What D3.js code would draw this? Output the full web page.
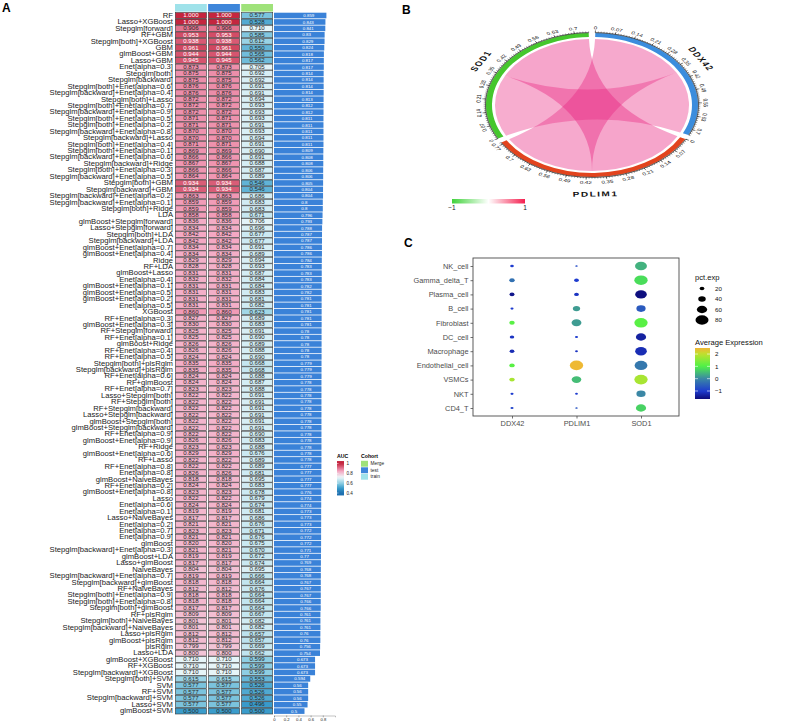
<!DOCTYPE html>
<html>
<head>
<meta charset="utf-8">
<script src="https://cdn.jsdelivr.net/npm/d3@7"></script>
<style>
  body { margin: 0; background: #fff; }
  svg { font-family: "Liberation Sans", Arial, sans-serif; }
</style>
</head>
<body>
<svg id="fig" width="793" height="722"></svg>
<script>
/* ---------- Panel A data ---------- */
const models = ["RF","Lasso+XGBoost","Stepglm[forward]","RF+GBM","Stepglm[both]+XGBoost","GBM","glmBoost+GBM","Lasso+GBM","Enet[alpha=0.3]","Stepglm[both]",
  "Stepglm[backward]","Stepglm[both]+Enet[alpha=0.6]","Stepglm[backward]+Enet[alpha=0.4]","Stepglm[both]+Lasso","Stepglm[both]+Enet[alpha=0.7]","Stepglm[backward]+Enet[alpha=0.9]","Stepglm[both]+Enet[alpha=0.5]","Stepglm[both]+Enet[alpha=0.2]","Stepglm[backward]+Enet[alpha=0.8]","Stepglm[backward]+Lasso",
  "Stepglm[both]+Enet[alpha=0.4]","Stepglm[both]+Enet[alpha=0.1]","Stepglm[backward]+Enet[alpha=0.6]","Stepglm[backward]+Ridge","Stepglm[both]+Enet[alpha=0.3]","Stepglm[backward]+Enet[alpha=0.5]","Stepglm[both]+GBM","Stepglm[backward]+GBM","Stepglm[backward]+Enet[alpha=0.2]","Stepglm[backward]+Enet[alpha=0.1]",
  "Stepglm[both]+Ridge","LDA","glmBoost+Stepglm[forward]","Lasso+Stepglm[forward]","Stepglm[both]+LDA","Stepglm[backward]+LDA","glmBoost+Enet[alpha=0.7]","glmBoost+Enet[alpha=0.4]","Ridge","RF+LDA",
  "glmBoost+Lasso","Enet[alpha=0.4]","glmBoost+Enet[alpha=0.1]","glmBoost+Enet[alpha=0.5]","glmBoost+Enet[alpha=0.2]","Enet[alpha=0.5]","XGBoost","RF+Enet[alpha=0.3]","glmBoost+Enet[alpha=0.3]","RF+Stepglm[forward]",
  "RF+Enet[alpha=0.1]","glmBoost+Ridge","RF+Enet[alpha=0.4]","RF+Enet[alpha=0.5]","Stepglm[both]+plsRglm","Stepglm[backward]+plsRglm","RF+Enet[alpha=0.6]","RF+glmBoost","RF+Enet[alpha=0.7]","Lasso+Stepglm[both]",
  "RF+Stepglm[both]","RF+Stepglm[backward]","Lasso+Stepglm[backward]","glmBoost+Stepglm[both]","glmBoost+Stepglm[backward]","RF+Enet[alpha=0.9]","glmBoost+Enet[alpha=0.9]","RF+Ridge","glmBoost+Enet[alpha=0.6]","RF+Lasso",
  "RF+Enet[alpha=0.8]","Enet[alpha=0.8]","glmBoost+NaiveBayes","RF+Enet[alpha=0.2]","glmBoost+Enet[alpha=0.8]","Lasso","Enet[alpha=0.6]","Enet[alpha=0.1]","Lasso+NaiveBayes","Enet[alpha=0.2]",
  "Enet[alpha=0.7]","Enet[alpha=0.9]","glmBoost","Stepglm[backward]+Enet[alpha=0.3]","glmBoost+LDA","Lasso+glmBoost","NaiveBayes","Stepglm[backward]+Enet[alpha=0.7]","Stepglm[backward]+glmBoost","RF+NaiveBayes",
  "Stepglm[both]+Enet[alpha=0.9]","Stepglm[both]+Enet[alpha=0.8]","Stepglm[both]+glmBoost","RF+plsRglm","Stepglm[both]+NaiveBayes","Stepglm[backward]+NaiveBayes","Lasso+plsRglm","glmBoost+plsRglm","plsRglm","Lasso+LDA",
  "glmBoost+XGBoost","RF+XGBoost","Stepglm[backward]+XGBoost","Stepglm[both]+SVM","SVM","RF+SVM","Stepglm[backward]+SVM","Lasso+SVM","glmBoost+SVM"];

/* first two columns show the same values */
const aucTrain = [1.000,1.000,0.906,0.953,0.938,0.961,0.944,0.945,0.873,0.875,
  0.875,0.876,0.876,0.872,0.872,0.872,0.871,0.871,0.870,0.870,
  0.871,0.869,0.866,0.867,0.866,0.864,0.934,0.934,0.863,0.859,
  0.859,0.858,0.836,0.834,0.842,0.842,0.834,0.834,0.829,0.828,
  0.831,0.832,0.831,0.831,0.831,0.831,0.860,0.827,0.830,0.825,
  0.825,0.826,0.826,0.824,0.835,0.835,0.824,0.824,0.823,0.822,
  0.822,0.822,0.822,0.822,0.822,0.822,0.826,0.823,0.829,0.822,
  0.822,0.826,0.818,0.824,0.823,0.822,0.824,0.819,0.817,0.821,
  0.823,0.821,0.820,0.821,0.819,0.817,0.804,0.819,0.818,0.812,
  0.818,0.818,0.817,0.809,0.801,0.801,0.812,0.812,0.799,0.800,
  0.710,0.710,0.710,0.615,0.577,0.577,0.577,0.577,0.500];
const aucTest = aucTrain.slice();
const aucMerge = [0.577,0.528,0.710,0.585,0.612,0.550,0.565,0.562,0.705,0.692,
  0.692,0.691,0.691,0.694,0.693,0.693,0.693,0.691,0.693,0.694,
  0.691,0.690,0.691,0.688,0.687,0.689,0.546,0.546,0.686,0.683,
  0.683,0.671,0.706,0.696,0.677,0.677,0.691,0.689,0.694,0.693,
  0.687,0.684,0.684,0.683,0.681,0.682,0.623,0.689,0.683,0.691,
  0.690,0.689,0.688,0.690,0.668,0.668,0.688,0.687,0.688,0.691,
  0.691,0.691,0.691,0.691,0.691,0.690,0.683,0.688,0.676,0.689,
  0.689,0.681,0.695,0.683,0.678,0.679,0.674,0.681,0.686,0.676,
  0.671,0.676,0.675,0.670,0.672,0.674,0.695,0.666,0.664,0.676,
  0.664,0.664,0.664,0.667,0.682,0.682,0.657,0.657,0.669,0.662,
  0.599,0.599,0.599,0.553,0.526,0.526,0.526,0.496,0.500];
const aucMean = [0.859,0.843,0.841,0.83,0.829,0.824,0.818,0.817,0.817,0.814,
  0.814,0.814,0.814,0.813,0.812,0.812,0.811,0.811,0.811,0.811,
  0.811,0.809,0.808,0.808,0.806,0.806,0.805,0.804,0.804,0.8,
  0.8,0.796,0.793,0.788,0.787,0.787,0.786,0.786,0.784,0.783,
  0.783,0.783,0.782,0.782,0.781,0.781,0.781,0.781,0.781,0.78,
  0.78,0.78,0.78,0.78,0.779,0.779,0.779,0.778,0.778,0.778,
  0.778,0.778,0.778,0.778,0.778,0.778,0.778,0.778,0.778,0.778,
  0.777,0.777,0.777,0.777,0.776,0.774,0.774,0.773,0.773,0.773,
  0.772,0.772,0.772,0.771,0.77,0.769,0.768,0.768,0.767,0.767,
  0.767,0.766,0.766,0.761,0.761,0.761,0.76,0.76,0.756,0.754,
  0.673,0.673,0.673,0.594,0.56,0.56,0.56,0.55,0.5];
const cohorts = ["train", "test", "Merge"];
const cohortValues = { train: aucTrain, test: aucTest, Merge: aucMerge };
const cohortLegend = ["Merge", "test", "train"];
const barTicks = [0, 0.2, 0.4, 0.6, 0.8];
const aucLegendTicks = [1, 0.8, 0.6, 0.4];

/* ---------- Panel B data ---------- */
const genes = ["DDX42", "PDLIM1", "SOD1"];
const geneTotals = [0.73, 0.78, 0.75];
const corrPairs = [["DDX42", "PDLIM1", 0.38], ["DDX42", "SOD1", 0.35], ["PDLIM1", "SOD1", 0.40]];
/* clockwise order of link ends inside each sector */
const slotOrder = {
  DDX42:  ["DDX42-PDLIM1", "DDX42-SOD1"],
  PDLIM1: ["PDLIM1-SOD1", "DDX42-PDLIM1"],
  SOD1:   ["DDX42-SOD1", "PDLIM1-SOD1"]
};
const chordTicks = [0, 0.07, 0.14, 0.21, 0.28, 0.35, 0.42, 0.49, 0.56, 0.63, 0.7, 0.77];

/* ---------- Panel C data ---------- */
const cellTypes = ["NK_cell","Gamma_delta_T","Plasma_cell","B_cell","Fibroblast","DC_cell","Macrophage","Endothelial_cell","VSMCs","NKT","CD4_T"];
const dotGenes = ["DDX42", "PDLIM1", "SOD1"];
const avgExpDDX42  = [-1.0, -0.3, -1.5, -1.0, 1.1, -1.1, -1.2, 1.1, 1.8, -1.0, -0.9];
const avgExpPDLIM1 = [-0.8, -1.0, -1.1, 0.2, 0.2, -1.0, -1.1, 2.45, 0.5, -1.0, -0.7];
const avgExpSOD1   = [0.4, 0.8, -1.6, -0.6, 1.1, -1.35, -1.2, -0.2, 1.8, 0.0, 0.7];
const pctDDX42  = [12, 25, 22, 8, 25, 18, 20, 25, 25, 8, 8];
const pctPDLIM1 = [3, 20, 20, 38, 57, 8, 6, 82, 55, 6, 3];
const pctSOD1   = [72, 82, 70, 52, 82, 60, 70, 78, 82, 52, 60];
const pctLegend = [20, 40, 60, 80];
const expLegend = [2, 1, 0, -1];

const svg = d3.select('#fig');
const defs = svg.append('defs');

/* =================== A: heatmap + bars =================== */
const gA = svg.append('g');
gA.append('text').attr('x', 2).attr('y', 12).attr('font-size', 12).attr('font-weight', 'bold').text('A');

const rowY = d3.scaleBand().domain(models).range([12.3, 714.3]);
const colX = d3.scaleBand().domain(cohorts).range([175, 273]).paddingInner(0.04);
const barX = d3.scaleLinear().domain([0, 1]).range([274, 335]);
const heatColor = d3.scaleLinear()
  .domain([0.4, 0.5, 0.6, 0.72, 0.85, 1])
  .range(["#1c6fb0", "#3a9ccb", "#8fcfe3", "#eef8fa", "#f4a3bf", "#c4263f"])
  .clamp(true);
const cohortColor = d3.scaleOrdinal().domain(["train", "test", "Merge"]).range(["#9fe2ea", "#3e86da", "#9fe27a"]);

/* column header */
gA.selectAll('rect.hdr').data(cohorts).join('rect')
  .attr('x', d => colX(d)).attr('y', 4)
  .attr('width', colX.bandwidth()).attr('height', 7.6)
  .attr('fill', d => cohortColor(d));

/* model names (source text is a little wide, so stretch it) */
gA.selectAll('text.model').data(models).join('text')
  .attr('transform', d => `translate(173,${rowY(d) + rowY.bandwidth() / 2}) scale(1.18,1)`)
  .attr('dy', '0.35em').attr('text-anchor', 'end')
  .attr('font-size', 6.5).attr('fill', '#1a1a1a')
  .text(d => d);

/* heat cells */
cohorts.forEach(c => {
  const col = gA.append('g');
  const vals = cohortValues[c];
  col.selectAll('rect').data(models).join('rect')
    .attr('x', colX(c) + 0.3).attr('y', d => rowY(d) + 0.3)
    .attr('width', colX.bandwidth() - 0.6).attr('height', rowY.bandwidth() - 0.6)
    .attr('fill', (d, i) => heatColor(vals[i]))
    .attr('stroke', '#3a3a3a').attr('stroke-width', 0.6);
  col.selectAll('text').data(models).join('text')
    .attr('transform', d => `translate(${colX(c) + colX.bandwidth() / 2},${rowY(d) + rowY.bandwidth() / 2}) scale(1.2,1)`)
    .attr('dy', '0.35em').attr('text-anchor', 'middle')
    .attr('font-size', 5.1)
    .attr('fill', (d, i) => vals[i] >= 0.93 ? '#ffffff' : '#2a2a2a')
    .text((d, i) => vals[i].toFixed(3));
});

/* mean AUC bars */
gA.append('g').selectAll('rect').data(models).join('rect')
  .attr('x', barX(0)).attr('y', d => rowY(d) + 0.4)
  .attr('width', (d, i) => barX(aucMean[i]) - barX(0))
  .attr('height', rowY.bandwidth() - 0.8)
  .attr('fill', '#3a82d8');
gA.append('g').selectAll('text').data(models).join('text')
  .attr('x', (d, i) => barX(aucMean[i] * 0.56)).attr('y', d => rowY(d) + rowY.bandwidth() / 2)
  .attr('dy', '0.35em').attr('font-size', 4.4).attr('fill', '#ffffff')
  .text((d, i) => String(aucMean[i]));

const barAxis = gA.append('g')
  .attr('transform', 'translate(0,715.5)')
  .call(d3.axisBottom(barX).tickValues(barTicks).tickSize(1.8).tickFormat(d => String(d)));
barAxis.select('.domain').attr('stroke', '#666').attr('stroke-width', 0.4);
barAxis.selectAll('.tick line').attr('stroke', '#444').attr('stroke-width', 0.4);
barAxis.selectAll('.tick text').attr('font-size', 4.2).attr('dy', '0.2em').attr('fill', '#222')
  .attr('font-family', '"Liberation Sans", Arial, sans-serif');

/* AUC legend */
const aucLegY = d3.scaleLinear().domain([1, 0.4]).range([463.5, 493]);
const aucGrad = defs.append('linearGradient').attr('id', 'aucGrad')
  .attr('x1', 0).attr('y1', 0).attr('x2', 0).attr('y2', 1);
d3.range(0, 1.0001, 0.05).forEach(t => {
  aucGrad.append('stop').attr('offset', t).attr('stop-color', heatColor(1.05 - t * 0.7));
});
gA.append('text').attr('x', 337).attr('y', 458).attr('font-size', 5.2).attr('font-weight', 'bold').text('AUC');
gA.append('rect').attr('x', 337).attr('y', aucLegY(1.05)).attr('width', 7)
  .attr('height', aucLegY(0.35) - aucLegY(1.05)).attr('fill', 'url(#aucGrad)');
gA.selectAll('text.aucl').data(aucLegendTicks).join('text')
  .attr('x', 346.5).attr('y', d => aucLegY(d)).attr('dy', '0.35em')
  .attr('font-size', 4.6).attr('fill', '#222').text(d => String(d));
gA.selectAll('line.aucl').data(aucLegendTicks).join('line')
  .attr('x1', 337).attr('x2', 338.5).attr('y1', d => aucLegY(d)).attr('y2', d => aucLegY(d))
  .attr('stroke', '#fff').attr('stroke-width', 0.5);

gA.append('text').attr('x', 361).attr('y', 458).attr('font-size', 5.2).attr('font-weight', 'bold').text('Cohort');
const cohortLegY = d3.scaleBand().domain(cohortLegend).range([460.5, 480]);
gA.selectAll('rect.cl').data(cohortLegend).join('rect')
  .attr('x', 361).attr('y', d => cohortLegY(d) + 0.3)
  .attr('width', 7).attr('height', cohortLegY.bandwidth() - 0.6)
  .attr('fill', d => cohortColor(d));
gA.selectAll('text.cl').data(cohortLegend).join('text')
  .attr('x', 370.5).attr('y', d => cohortLegY(d) + cohortLegY.bandwidth() / 2).attr('dy', '0.35em')
  .attr('font-size', 4.8).attr('fill', '#222').text(d => d);

/* =================== B: chord diagram =================== */
svg.append('text').attr('x', 402).attr('y', 14).attr('font-size', 12).attr('font-weight', 'bold').text('B');

const cx = 592, cy = 105, squash = 0.68;
const gB = svg.append('g').attr('transform', `translate(${cx},${cy}) scale(1,${squash})`);
const geneColor = d3.scaleOrdinal().domain(genes).range(["#3b8ddd", "#e2441e", "#45c72d"]);

const gapDeg = 3.6;
const degPerUnit = (360 - genes.length * gapDeg) / d3.sum(geneTotals);
const rad = Math.PI / 180;
const sectorScale = {};
let startDeg = gapDeg / 2;
genes.forEach((g, i) => {
  const endDeg = startDeg + geneTotals[i] * degPerUnit;
  sectorScale[g] = d3.scaleLinear().domain([0, geneTotals[i]]).range([startDeg * rad, endDeg * rad]);
  startDeg = endDeg + gapDeg;
});

/* angle span of every link end */
const pairValue = {};
corrPairs.forEach(p => { pairValue[p[0] + '-' + p[1]] = p[2]; });
const ends = {};
genes.forEach(g => {
  let off = 0;
  slotOrder[g].forEach(key => {
    const v = pairValue[key];
    ends[g + '@' + key] = { startAngle: sectorScale[g](off), endAngle: sectorScale[g](off + v) };
    off += v;
  });
});

const ribbonColor = d3.scaleLinear().domain([0, 0.4]).range(["#f7b6d3", "#e81f7d"]).clamp(true);
const ribbon = d3.ribbon().radius(97);
gB.append('g').selectAll('path').data(corrPairs).join('path')
  .attr('d', p => {
    const key = p[0] + '-' + p[1];
    return ribbon({ source: ends[p[0] + '@' + key], target: ends[p[1] + '@' + key] });
  })
  .attr('fill', p => ribbonColor(p[2]))
  .attr('fill-opacity', 0.4)
  .attr('stroke', 'none');

const sectorArc = d3.arc().innerRadius(100).outerRadius(106);
gB.append('g').selectAll('path').data(genes).join('path')
  .attr('d', g => sectorArc({ startAngle: sectorScale[g].range()[0], endAngle: sectorScale[g].range()[1] }))
  .attr('fill', g => geneColor(g));

/* ticks and labels */
const polar = (a, r) => [r * Math.sin(a), -r * Math.cos(a)];
genes.forEach((g, i) => {
  const sc = sectorScale[g];
  const midDeg = (sc.range()[0] + sc.range()[1]) / 2 / rad;
  const flip = midDeg > 90 && midDeg < 270;
  const minor = d3.range(0, geneTotals[i] + 1e-9, 0.01);
  const tg = gB.append('g');
  tg.selectAll('line.minor').data(minor).join('line')
    .attr('x1', d => polar(sc(d), 106.5)[0]).attr('y1', d => polar(sc(d), 106.5)[1])
    .attr('x2', d => polar(sc(d), 108.3)[0]).attr('y2', d => polar(sc(d), 108.3)[1])
    .attr('stroke', '#111').attr('stroke-width', 0.5);
  const major = chordTicks.filter(t => t <= geneTotals[i]);
  tg.selectAll('line.major').data(major).join('line')
    .attr('x1', d => polar(sc(d), 106.5)[0]).attr('y1', d => polar(sc(d), 106.5)[1])
    .attr('x2', d => polar(sc(d), 110)[0]).attr('y2', d => polar(sc(d), 110)[1])
    .attr('stroke', '#111').attr('stroke-width', 0.6);
  tg.append('path')
    .attr('d', d3.arc().innerRadius(106.5).outerRadius(106.5)({ startAngle: sc.range()[0], endAngle: sc.range()[1] }))
    .attr('stroke', '#111').attr('stroke-width', 0.5).attr('fill', 'none');
  tg.selectAll('text').data(major).join('text')
    .attr('transform', d => {
      const a = sc(d), p = polar(a, 111.5);
      return `translate(${p[0]},${p[1]}) rotate(${flip ? a / rad - 180 : a / rad})`;
    })
    .attr('text-anchor', 'middle')
    .attr('dominant-baseline', flip ? 'hanging' : 'auto')
    .attr('font-size', 6.2).attr('fill', '#111')
    .text(d => String(d));

  const np = polar(midDeg * rad, flip ? 127 : 125);
  gB.append('text')
    .attr('transform', `translate(${np[0]},${np[1]}) rotate(${flip ? midDeg - 180 : midDeg})`)
    .attr('text-anchor', 'middle')
    .attr('dominant-baseline', flip ? 'hanging' : 'auto')
    .attr('font-size', 10).attr('font-weight', 'bold').attr('letter-spacing', 1.5)
    .attr('fill', '#111')
    .text(g);
});

/* correlation colour legend */
const corrColor = d3.scaleLinear().domain([-1, 0, 1]).range(["#3fd23a", "#ffffff", "#f51f4f"]);
const corrLegX = d3.scaleLinear().domain([-1, 1]).range([452, 525]);
const corrGrad = defs.append('linearGradient').attr('id', 'corrGrad');
d3.range(-1, 1.0001, 0.1).forEach(v => {
  corrGrad.append('stop').attr('offset', (v + 1) / 2).attr('stop-color', corrColor(v));
});
svg.append('rect').attr('x', corrLegX(-1)).attr('y', 199).attr('width', corrLegX(1) - corrLegX(-1))
  .attr('height', 4.5).attr('fill', 'url(#corrGrad)');
svg.selectAll('text.corrl').data([-1, 1]).join('text')
  .attr('x', d => corrLegX(d)).attr('y', 210).attr('text-anchor', 'middle')
  .attr('font-size', 6.5).attr('fill', '#111')
  .text(d => d < 0 ? '\u22121' : '1');

/* =================== C: dot plot =================== */
svg.append('text').attr('x', 404).attr('y', 247).attr('font-size', 12).attr('font-weight', 'bold').text('C');

const gC = svg.append('g');
const cY = d3.scalePoint().domain(cellTypes).range([266, 408]);
const cX = d3.scalePoint().domain(dotGenes).range([512, 641]);
const sizeR = d3.scaleLinear().domain([0, 100]).range([1, 7.9]);
const expColor = d3.scaleLinear()
  .domain([-1.65, -1, 0, 1, 2, 2.49])
  .range(["#0d0b78", "#1e3ccf", "#3b87a5", "#4ef247", "#bfe22e", "#f2b535"]);
const expByGene = { DDX42: avgExpDDX42, PDLIM1: avgExpPDLIM1, SOD1: avgExpSOD1 };
const pctByGene = { DDX42: pctDDX42, PDLIM1: pctPDLIM1, SOD1: pctSOD1 };

const dots = [];
dotGenes.forEach(g => cellTypes.forEach((c, i) => dots.push({ gene: g, cell: c, exp: expByGene[g][i], pct: pctByGene[g][i] })));

gC.append('rect').attr('x', 473).attr('y', 258).attr('width', 206).attr('height', 158)
  .attr('fill', 'none').attr('stroke', '#4a4a4a').attr('stroke-width', 0.9);

const yAx = gC.append('g').attr('transform', 'translate(473,0)')
  .call(d3.axisLeft(cY).tickSize(2.5).tickPadding(2));
const xAx = gC.append('g').attr('transform', 'translate(0,416)')
  .call(d3.axisBottom(cX).tickSize(2.5).tickPadding(2.5));
[yAx, xAx].forEach(ax => {
  ax.select('.domain').remove();
  ax.selectAll('.tick line').attr('stroke', '#4a4a4a').attr('stroke-width', 0.8);
  ax.selectAll('.tick text').attr('font-size', 7.4).attr('fill', '#4d4d4d')
    .attr('font-family', '"Liberation Sans", Arial, sans-serif');
});

gC.append('g').selectAll('ellipse').data(dots).join('ellipse')
  .attr('cx', d => cX(d.gene)).attr('cy', d => cY(d.cell))
  .attr('rx', d => sizeR(d.pct)).attr('ry', d => sizeR(d.pct) * 0.72)
  .attr('fill', d => expColor(d.exp));

/* size legend */
gC.append('text').attr('x', 695).attr('y', 280).attr('font-size', 7.6).attr('fill', '#111').text('pct.exp');
const pctLegY = d3.scalePoint().domain(pctLegend).range([288.5, 320]);
gC.selectAll('ellipse.pl').data(pctLegend).join('ellipse')
  .attr('cx', 702).attr('cy', d => pctLegY(d))
  .attr('rx', d => sizeR(d)).attr('ry', d => sizeR(d) * 0.72).attr('fill', '#000');
gC.selectAll('text.pl').data(pctLegend).join('text')
  .attr('x', 715).attr('y', d => pctLegY(d)).attr('dy', '0.35em')
  .attr('font-size', 6.2).attr('fill', '#111').text(d => d);

/* colour legend */
gC.append('text').attr('x', 695).attr('y', 345).attr('font-size', 7.6).attr('fill', '#111').text('Average Expression');
const expLegY = d3.scaleLinear().domain([2.49, -1.65]).range([348, 399]);
const expGrad = defs.append('linearGradient').attr('id', 'expGrad')
  .attr('x1', 0).attr('y1', 0).attr('x2', 0).attr('y2', 1);
d3.range(0, 1.0001, 0.05).forEach(t => {
  expGrad.append('stop').attr('offset', t).attr('stop-color', expColor(expLegY.invert(348 + t * 51)));
});
gC.append('rect').attr('x', 695).attr('y', 348).attr('width', 15).attr('height', 51).attr('fill', 'url(#expGrad)');
gC.selectAll('line.el').data(expLegend).join('line')
  .attr('x1', 695).attr('x2', 698).attr('y1', d => expLegY(d)).attr('y2', d => expLegY(d))
  .attr('stroke', '#fff').attr('stroke-width', 0.6);
gC.selectAll('line.er').data(expLegend).join('line')
  .attr('x1', 707).attr('x2', 710).attr('y1', d => expLegY(d)).attr('y2', d => expLegY(d))
  .attr('stroke', '#fff').attr('stroke-width', 0.6);
gC.selectAll('text.el').data(expLegend).join('text')
  .attr('x', 715).attr('y', d => expLegY(d)).attr('dy', '0.35em')
  .attr('font-size', 6.2).attr('fill', '#111').text(d => d < 0 ? '\u2212' + Math.abs(d) : d);
</script>
</body>
</html>
